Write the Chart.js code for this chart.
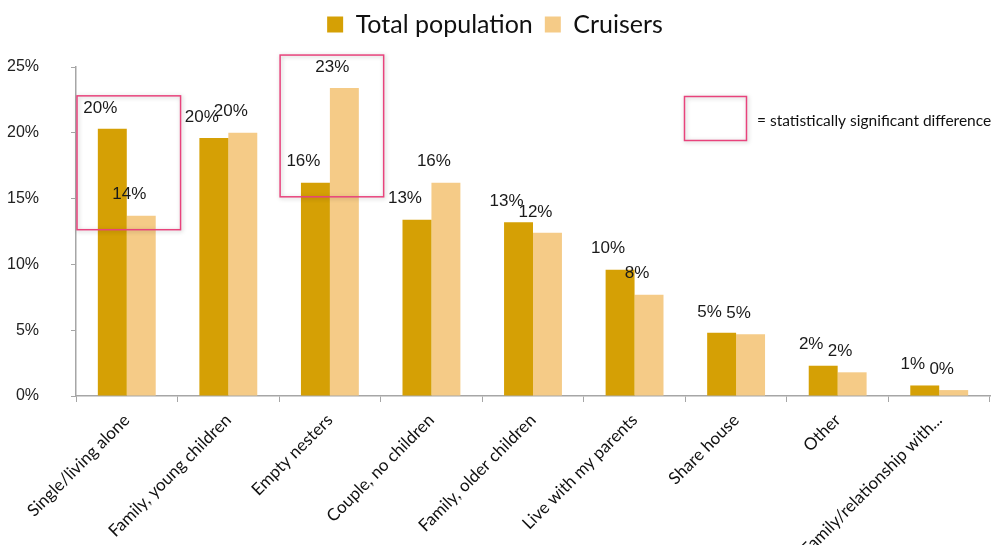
<!DOCTYPE html>
<html>
<head>
<meta charset="utf-8">
<script src="https://cdn.jsdelivr.net/npm/chart.js@4.4.1/dist/chart.umd.min.js"></script>
<style>
  html, body { margin: 0; padding: 0; background: #ffffff; }
  #wrap { width: 993px; height: 545px; position: relative; }
</style>
</head>
<body>
<div id="wrap"><canvas id="chart"></canvas></div>
<script>
// Household situation: total population vs cruisers (% of respondents)
const categories = [
  'Single/living alone',
  'Family, young children',
  'Empty nesters',
  'Couple, no children',
  'Family, older children',
  'Live with my parents',
  'Share house',
  'Other',
  'Family/relationship with...'
];
const totalPopulation = [20.3, 19.6, 16.2, 13.4, 13.2, 9.6, 4.8, 2.3, 0.8];
const cruisers        = [13.7, 20.0, 23.4, 16.2, 12.4, 7.7, 4.7, 1.8, 0.45];
// categories where the difference is statistically significant
const significant     = [true, false, true, false, false, false, false, false, false];
const yTicks = [0, 5, 10, 15, 20, 25];

const GOLD = '#D5A005';
const SAND = '#F5CB87';
const PINK = '#E8437C';

// extra room between the legend and the plot
const legendGap = {
  id: 'legendGap',
  beforeInit(chart) {
    const fit = chart.legend.fit;
    chart.legend.fit = function () {
      fit.call(this);
      this.height += 20;
    };
  }
};

// value labels above each bar
const valueLabels = {
  id: 'valueLabels',
  afterDatasetsDraw(chart) {
    const ctx = chart.ctx;
    ctx.save();
    ctx.font = '17px "Liberation Sans", Arial, sans-serif';
    ctx.fillStyle = '#1a1a1a';
    ctx.textAlign = 'center';
    ctx.textBaseline = 'middle';
    chart.data.datasets.forEach((ds, di) => {
      chart.getDatasetMeta(di).data.forEach((bar, i) => {
        ctx.fillText(Math.round(ds.data[i]) + '%', bar.x - 12, bar.y - 21);
      });
    });
    ctx.restore();
  }
};

// outlined boxes marking significant differences, plus the key
const significanceBoxes = {
  id: 'significanceBoxes',
  afterDatasetsDraw(chart) {
    const ctx = chart.ctx;
    const x = chart.scales.x, y = chart.scales.y;
    const half = (x.getPixelForValue(1) - x.getPixelForValue(0)) / 2;
    ctx.save();
    ctx.strokeStyle = PINK;
    ctx.lineWidth = 1.5;
    ctx.shadowColor = 'rgba(0,0,0,0.25)';
    ctx.shadowBlur = 4;
    ctx.shadowOffsetX = 1;
    ctx.shadowOffsetY = 1;
    significant.forEach((sig, i) => {
      if (!sig) return;
      const hi = Math.max(totalPopulation[i], cruisers[i]);
      const lo = Math.min(totalPopulation[i], cruisers[i]);
      const cx = x.getPixelForValue(i);
      const top = y.getPixelForValue(hi) - 33;
      const bottom = y.getPixelForValue(lo) + 14;
      ctx.strokeRect(cx - half + 1, top, 2 * half + 2, bottom - top);
    });
    // key
    ctx.strokeRect(684.5, 96.5, 62, 44);
    ctx.restore();
    ctx.save();
    ctx.font = '15.5px Lato, "Open Sans", sans-serif';
    ctx.fillStyle = '#111';
    ctx.textBaseline = 'middle';
    ctx.textAlign = 'left';
    ctx.fillText('= statistically significant difference', 757, 121);
    ctx.restore();
  }
};

new Chart(document.getElementById('chart'), {
  type: 'bar',
  data: {
    labels: categories,
    datasets: [
      { label: 'Total population', data: totalPopulation, backgroundColor: GOLD, borderWidth: 0 },
      { label: 'Cruisers', data: cruisers, backgroundColor: SAND, borderWidth: 0 }
    ]
  },
  options: {
    responsive: true,
    maintainAspectRatio: false,
    animation: false,
    devicePixelRatio: 1,
    categoryPercentage: 0.57,
    barPercentage: 1.0,
    layout: { padding: { top: 0, right: 3, bottom: 0, left: 0 } },
    plugins: {
      legend: {
        position: 'top',
        labels: {
          boxWidth: 16,
          boxHeight: 16,
          padding: 12,
          color: '#111',
          font: { family: 'Lato, "Open Sans", sans-serif', size: 25 }
        }
      },
      tooltip: { enabled: false }
    },
    scales: {
      x: {
        grid: { drawOnChartArea: false, tickLength: 6, color: '#a6a6a6', offset: true },
        border: { color: '#a6a6a6', width: 1.5 },
        ticks: {
          minRotation: 45,
          maxRotation: 45,
          autoSkip: false,
          padding: 8,
          color: '#111',
          font: { family: 'Lato, "Open Sans", sans-serif', size: 17 }
        },
        afterFit(scale) { scale.height = 149; }
      },
      y: {
        min: 0,
        max: 25,
        afterBuildTicks(scale) { scale.ticks = yTicks.map(v => ({ value: v })); },
        grid: { drawOnChartArea: false, tickLength: 5, color: '#a6a6a6' },
        border: { color: '#a6a6a6', width: 1.5 },
        ticks: {
          padding: 32,
          color: '#222',
          font: { family: '"Liberation Sans", Arial, sans-serif', size: 16 },
          callback: v => v + '%'
        },
        afterFit(scale) { scale.width = 76; }
      }
    }
  },
  plugins: [legendGap, valueLabels, significanceBoxes]
});
</script>
</body>
</html>
